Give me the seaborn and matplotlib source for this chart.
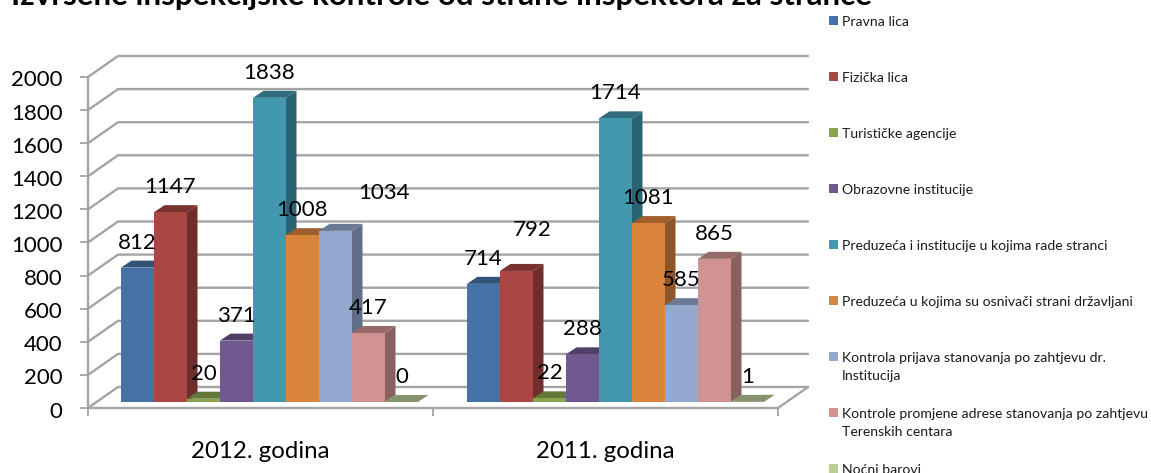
import matplotlib
matplotlib.use("Agg")
import matplotlib.pyplot as plt
from matplotlib.patches import Polygon, Patch
from matplotlib.colors import to_rgb
from matplotlib.transforms import ScaledTranslation
import pandas as pd
import seaborn as sns

years = ["2012. godina", "2011. godina"]
categories = [
    "Pravna lica",
    "Fizička lica",
    "Turističke agencije",
    "Obrazovne institucije",
    "Preduzeća i institucije u kojima rade stranci",
    "Preduzeća u kojima su osnivači strani državljani",
    "Kontrola prijava stanovanja po zahtjevu dr.\nInstitucija",
    "Kontrole promjene adrese stanovanja po zahtjevu\nTerenskih centara",
    "Noćni barovi",
]
values_2012 = [812, 1147, 20, 371, 1838, 1008, 1034, 417, 0]
values_2011 = [714, 792, 22, 288, 1714, 1081, 585, 865, 1]
colors = ["#4572A7", "#AA4643", "#89A54E", "#71588F", "#4198AF",
          "#DB843D", "#93A9CF", "#D19392", "#B9CD96"]
title = "Izvršene inspekcijske kontrole od strane inspektora za strance"

sns.set_theme(style="white")
plt.rcParams["font.family"] = ["Lato", "DejaVu Sans"]
W, H = 1151, 473
GRID = "#A4A4A4"
TEXT = "#000000"

df = pd.DataFrame({
    "Godina": [y for y in years for _ in categories],
    "Kategorija": categories * 2,
    "Broj": values_2012 + values_2011,
})

fig = plt.figure(figsize=(W / 100, H / 100), dpi=100, facecolor="white")


def axes_px(left, right, top, bottom):
    return fig.add_axes([left / W, 1 - bottom / H, (right - left) / W, (bottom - top) / H])


# Front plane of the 3D box: carries the axes, ticks and wall grid
ax = axes_px(88, 778, 77, 408)
ax.set_xlim(-0.5, 1.5)
ax.set_ylim(0, 2000)
ax.set_facecolor("none")
for s in ("top", "right"):
    ax.spines[s].set_visible(False)
for s in ("left", "bottom"):
    ax.spines[s].set_color(GRID)
    ax.spines[s].set_linewidth(1.7)
yticks = list(range(0, 2001, 200))
ax.set_yticks(yticks)
ax.tick_params(axis="y", left=True, length=5.8, width=1.3, color=GRID, pad=12.5,
               labelsize=16, labelcolor=TEXT)
nudge = ScaledTranslation(0, -1.5 / 100, fig.dpi_scale_trans)
for lab in ax.get_yticklabels():
    lab.set_transform(lab.get_transform() + nudge)
ax.set_xticks([-0.5, 0.5, 1.5])
ax.set_xticklabels([])
ax.tick_params(axis="x", which="major", bottom=True, length=5.8, width=1.3, color=GRID)
ax.set_xticks([0, 1], minor=True)
ax.set_xticklabels(years, minor=True)
ax.tick_params(axis="x", which="minor", bottom=False, length=0, pad=23.5, labelsize=17.3,
               labelcolor=TEXT)
ax.set_xlabel("")
ax.set_ylabel("")

depth_x = 30 / 345
depth_y = 21 * 2000 / 331
for v in yticks:
    ax.plot([-0.5, -0.5 + depth_x, 1.5 + depth_x], [v, v + depth_y, v + depth_y],
            color=GRID, lw=1.7, clip_on=False, zorder=1, solid_joinstyle="miter")
ax.plot([1.5, 1.5 + depth_x], [0, depth_y], color=GRID, lw=1.7, clip_on=False, zorder=1)

# Plane of the bar fronts, set back inside the box
bar_ax = axes_px(96.5, 788.5, 71, 402)
bar_ax.set_zorder(2)
bar_ax.patch.set_visible(False)
sns.barplot(data=df, x="Godina", y="Broj", hue="Kategorija", order=years,
            hue_order=categories, palette=colors, saturation=1, width=297 / 346,
            gap=0, legend=False, errorbar=None, linewidth=0, ax=bar_ax)
bar_ax.set_xlim(-0.5, 1.5)
bar_ax.set_ylim(0, 2000)
bar_ax.axis("off")

bar_dx = 10.5 / 346
bar_dy = 7 * 2000 / 331


def shade(color, k):
    return tuple(c * k for c in to_rgb(color))


label_shift = {(0, 6): (48, 40), (1, 1): (16, 43)}
for h, (cont, col) in enumerate(zip(bar_ax.containers, colors)):
    for g, rect in enumerate(cont):
        x0, x1 = rect.get_x(), rect.get_x() + rect.get_width()
        v = rect.get_height()
        rect.set_zorder(3 + 2 * h + 1)
        rect.set_clip_on(False)
        bar_ax.add_patch(Polygon([(x1, 0), (x1 + bar_dx, bar_dy), (x1 + bar_dx, v + bar_dy), (x1, v)],
                                 closed=True, fc=shade(col, 0.65), ec="none",
                                 zorder=3 + 2 * h, clip_on=False))
        bar_ax.add_patch(Polygon([(x0, v), (x0 + bar_dx, v + bar_dy), (x1 + bar_dx, v + bar_dy), (x1, v)],
                                 closed=True, fc=shade(col, 0.72), ec="none",
                                 zorder=3 + 2 * h, clip_on=False))
        dx, dy = label_shift.get((g, h), (0, 27))
        bar_ax.annotate(f"{v:.0f}", xy=((x0 + x1) / 2, v), xytext=(dx, dy),
                        textcoords="offset pixels", ha="center", va="center_baseline",
                        fontsize=16, color=TEXT, zorder=40, annotation_clip=False)

fig.suptitle(title, x=11 / W, y=1 - 4.5 / H, ha="left", va="baseline",
             fontsize=22.6, fontweight="bold", color=TEXT)

handles = [Patch(facecolor=c, edgecolor="none") for c in colors]
fs = 10.1
leg = fig.legend(handles, categories, loc="upper left",
                 bbox_to_anchor=(829 / W, 1 - 16 / H), frameon=False, fontsize=fs,
                 borderpad=0, borderaxespad=0, handlelength=0.64, handleheight=0.64,
                 handletextpad=0.3, labelcolor="#1a1a1a")
for t in leg.get_texts():
    t.set_linespacing(1.6)
column = leg._legend_handle_box.get_children()[0]
column.mode = "equal"
column.height = 56 * len(categories)
for row in column.get_children():
    row.align = "top"

fig.savefig("out.png", dpi=100)
